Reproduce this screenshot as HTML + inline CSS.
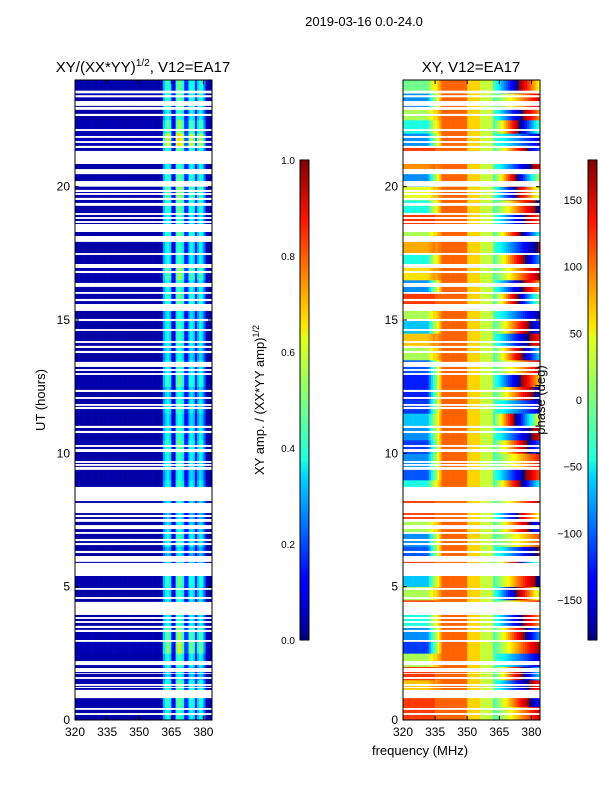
<!DOCTYPE html>
<html><head><meta charset="utf-8">
<style>
body{margin:0;background:#fff;font-family:"Liberation Sans",sans-serif;}
svg text{font-family:"Liberation Sans",sans-serif;fill:#000;}
</style></head>
<body>
<svg id="fig" width="600" height="800" viewBox="0 0 600 800" xmlns="http://www.w3.org/2000/svg">
<defs>
<linearGradient id="jet" x1="0" y1="1" x2="0" y2="0">
<stop offset="0" stop-color="#00007f"/><stop offset="0.11" stop-color="#0000ff"/>
<stop offset="0.125" stop-color="#0000ff"/><stop offset="0.34" stop-color="#00d4ff"/>
<stop offset="0.375" stop-color="#1fffdf"/><stop offset="0.5" stop-color="#7fff7f"/>
<stop offset="0.625" stop-color="#dfff1f"/><stop offset="0.66" stop-color="#ffe500"/>
<stop offset="0.875" stop-color="#ff1400"/><stop offset="1" stop-color="#7f0000"/>
</linearGradient>
</defs>
<text x="364" y="26" font-size="13" text-anchor="middle">2019-03-16 0.0-24.0</text>
<text x="143" y="72" font-size="15" text-anchor="middle">XY/(XX*YY)<tspan font-size="10" dy="-6">1/2</tspan><tspan dy="6">, V12=EA17</tspan></text>
<text x="471" y="72" font-size="15" text-anchor="middle">XY, V12=EA17</text>
<g id="ampPanel"></g>
<g id="phPanel"></g>
<g id="axes"></g>
<rect x="300" y="160" width="9" height="480" fill="url(#jet)" stroke="#000" stroke-width="1"/>
<rect x="588" y="160" width="9" height="480" fill="url(#jet)" stroke="#000" stroke-width="1"/>
<text transform="translate(264,400) rotate(-90)" font-size="13" text-anchor="middle">XY amp. / (XX*YY amp)<tspan font-size="9" dy="-5">1/2</tspan></text>
<text transform="translate(545,400) rotate(-90)" font-size="13" text-anchor="middle">phase (deg)</text>
<text transform="translate(45,400) rotate(-90)" font-size="13" text-anchor="middle">UT (hours)</text>
<text x="420" y="755" font-size="13" text-anchor="middle">frequency (MHz)</text>
</svg>
<script>
// ---- data ----
const freqStart = 320, freqEnd = 384;
const hourBins = 48; // half-hour rows
const ampChannelProfile = [0.04,0.04,0.04,0.04,0.04,0.04,0.04,0.04,0.04,0.04,0.04,0.04,0.04,0.04,0.04,0.04,0.04,0.04,0.04,0.04,
 0.04,0.04,0.04,0.04,0.04,0.04,0.04,0.04,0.04,0.04,0.04,0.04,0.04,0.04,0.04,0.04,0.04,0.04,0.04,0.04,0.04,
 0.28,0.36,0.4,0.34,0.12,0.08,0.38,0.45,0.42,0.36,0.15,0.15,0.34,0.38,0.34,0.15,0.3,0.38,0.34,0.22,0.05,0.04,0.04];
const ampRowGain = [1.0,1.1,1.1,0.9,1.0,1.3,1.2,1.0,0.9,1.0,1.1,0.9,0.8,1.0,0.9,0.8,0.9,1.0,0.9,1.0,1.1,1.0,0.9,1.0,
 0.9,1.1,1.0,0.9,1.0,1.0,0.9,1.1,1.0,1.2,1.0,1.0,1.1,1.0,1.1,1.2,1.1,1.0,1.1,1.5,1.2,1.0,1.1,1.1];
const phaseBase = [115,115,115,115,115,115,115,115,115,115,115,115,115,115,115,
 100,100,100,100,100,100,100,100,100,100,100,100,100,100,100,
 60,60,60,60,60,60,25,25,25,25,25,25,
 -20,-20,-20,-20,-20,-20,-20,-20,-20,-20,-20,-20,-20,-20,-20,-20,-20,-20,-20,-20,-20,-20];
const phaseLeftOffset = [0,0,-50,0,-100,-230,-200,-150,0,-100,-180,0,-220,-200,-100,0,0,-150,-220,-200,-230,-200,-180,-230,
 -240,-240,-220,-100,-50,-180,-100,0,-200,-60,-150,-40,-100,0,-150,-80,-200,-30,0,-200,-150,-100,-200,-120];
const phaseRightSlope = [8,12,-10,15,-6,9,14,-12,7,-15,10,18,-8,6,12,-14,9,16,-11,7,13,-9,20,-6,
 11,-13,8,15,-10,12,-7,18,-12,9,14,-8,16,-11,10,-15,19,-9,13,-6,17,-12,8,-14];
const gapHours = [[23.5,23.6],[23.35,23.43],[23.03,23.21],[22.88,22.99],[22.65,22.73],[22.09,22.16],[21.83,21.9],[21.64,21.71],
 [21.45,21.53],[20.85,21.34],[20.47,20.66],[20.0,20.21],[19.8,19.88],[19.69,19.76],[19.5,19.58],[19.28,19.39],[18.94,19.01],
 [18.79,18.86],[18.64,18.71],[18.3,18.6],[17.93,18.15],[17.44,17.51],[16.95,17.1],[16.76,16.84],[16.24,16.39],[15.98,16.05],
 [15.71,15.79],[15.34,15.6],[14.96,15.04],[14.59,14.66],[14.14,14.21],[13.95,14.03],[13.76,13.84],[13.24,13.43],[13.09,13.16],
 [12.94,13.01],[12.3,12.38],[12.04,12.11],[11.78,11.85],[11.66,11.74],[10.95,11.03],[10.76,10.84],[10.24,10.31],[10.05,10.16],
 [9.64,9.71],[9.53,9.6],[9.38,9.49],[8.21,8.74],[7.76,8.14],[7.61,7.69],[7.43,7.54],[7.16,7.31],[6.98,7.05],[6.71,6.79],
 [6.56,6.64],[6.26,6.34],[5.93,6.15],[5.4,5.89],[4.88,4.95],[4.54,4.61],[3.94,4.43],[3.79,3.86],[3.64,3.71],[3.45,3.53],
 [3.3,3.38],[2.93,3.0],[2.06,2.21],[1.8,1.95],[1.73,1.76],[1.54,1.61],[1.28,1.35],[1.2,1.24],[0.82,1.13],[0.38,0.45],[0.19,0.26]];
const xTicks = [320,335,350,365,380];
const yTicks = [0,5,10,15,20];
const ampTicks = [0.0,0.2,0.4,0.6,0.8,1.0];
const phaseTicks = [-150,-100,-50,0,50,100,150];

// ---- geometry ----
const NS = "http://www.w3.org/2000/svg";
const panels = [{x0:75,id:'ampPanel',kind:'amp'},{x0:403,id:'phPanel',kind:'phase'}];
const pw = 137, py0 = 80, py1 = 720;
function yScale(h){ return py1 - (h/24)*(py1-py0); }
function xScale(x0,f){ return x0 + (f-freqStart)/(freqEnd-freqStart)*pw; }
function jet(v){ v=Math.max(0,Math.min(1,v));
  const c=t=>Math.round(255*Math.max(0,Math.min(1,1.5-Math.abs(4*v-t))));
  return `rgb(${c(3)},${c(2)},${c(1)})`; }
function wrap(p){ return ((p+180)%360+360)%360-180; }
function mk(tag,attrs,parent){ const e=document.createElementNS(NS,tag); for(const k in attrs) e.setAttribute(k,attrs[k]); parent.appendChild(e); return e; }

panels.forEach(P=>{
  const g=document.getElementById(P.id);
  const nCh = freqEnd-freqStart;
  for(let r=0;r<hourBins;r++){
    const h0=r*0.5, h1=h0+0.5;
    const y=yScale(h1), hh=yScale(h0)-y;
    for(let c=0;c<nCh;c++){
      let col;
      if(P.kind==='amp'){
        col = jet(ampChannelProfile[c]*ampRowGain[r]);
      } else {
        const wl = c<11 ? 1 : Math.max(0,1-(c-11)/7);
        const p = phaseBase[c] + phaseLeftOffset[r]*wl + (c>=42 ? phaseRightSlope[r]*(c-42) : 0);
        col = jet((wrap(p)+180)/360);
      }
      const x=xScale(P.x0,freqStart+c), w=xScale(P.x0,freqStart+c+1)-x;
      const cell=mk('rect',{x:x.toFixed(2),y:y.toFixed(2),width:(w+0.3).toFixed(2),height:(hh+0.3).toFixed(2),fill:col},g);
      
      
    }
  }
  gapHours.forEach(gp=>{
    const y=yScale(gp[1]), hh=yScale(gp[0])-y;
    const gr=mk('rect',{x:P.x0,y:y.toFixed(2),width:pw,height:hh.toFixed(2),fill:'#fff'},g);
    
    
  });
  const ax=document.getElementById('axes');
  const fr=mk('rect',{x:P.x0,y:py0,width:pw,height:py1-py0,fill:'none',stroke:'#000','stroke-width':1},ax);
  
  
  xTicks.forEach(f=>{
    const x=xScale(P.x0,f);
    mk('line',{x1:x,x2:x,y1:py1,y2:py1-4,stroke:'#000'},ax);
    mk('line',{x1:x,x2:x,y1:py0,y2:py0+4,stroke:'#000'},ax);
    const t=mk('text',{x:x,y:py1+16,'font-size':12,'text-anchor':'middle'},ax);
    t.textContent=f;
    
    
  });
  yTicks.forEach(v=>{
    const y=yScale(v);
    mk('line',{x1:P.x0,x2:P.x0+4,y1:y,y2:y,stroke:'#000'},ax);
    mk('line',{x1:P.x0+pw,x2:P.x0+pw-4,y1:y,y2:y,stroke:'#000'},ax);
    const t=mk('text',{x:P.x0-5,y:y+4,'font-size':12,'text-anchor':'end'},ax);
    t.textContent=v;
    
    
  });
});
// colorbar ticks
(function(){
  const ax=document.getElementById('axes');
  ampTicks.forEach(v=>{
    const y=640-v*480;
    mk('line',{x1:300,x2:304,y1:y,y2:y,stroke:'#000'},ax);
    const t=mk('text',{x:295,y:y+4,'font-size':10,'text-anchor':'end'},ax);
    t.textContent=v.toFixed(1);
    
    
  });
  phaseTicks.forEach(v=>{
    const y=640-(v+180)/360*480;
    mk('line',{x1:588,x2:592,y1:y,y2:y,stroke:'#000'},ax);
    const t=mk('text',{x:582,y:y+4,'font-size':11,'text-anchor':'end'},ax);
    t.textContent=v<0?'\u2212'+Math.abs(v):v;
    
    
  });
})();
</script>
</body></html>
